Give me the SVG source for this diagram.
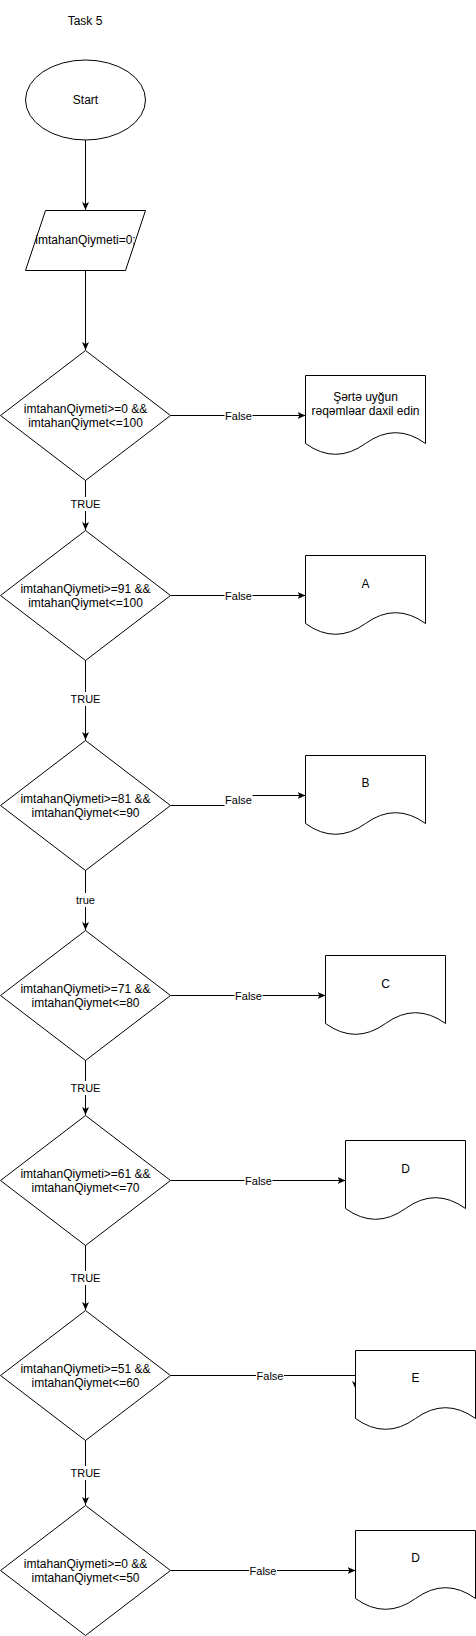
<svg xmlns="http://www.w3.org/2000/svg" width="476" height="1636" viewBox="0 0 476 1636">
<style>
.s{fill:#fff;stroke:#000;stroke-width:1}
.t{font-family:"Liberation Sans",Arial,sans-serif;font-size:12px;fill:#000;text-anchor:middle}
.l{font-family:"Liberation Sans",Arial,sans-serif;font-size:11px;fill:#000;text-anchor:middle}
.c{fill:none;stroke:#000;stroke-width:1}
.bg{fill:#fff}
</style>
<defs>
<marker id="a" viewBox="0 0 8 8" refX="8" refY="4" markerWidth="8" markerHeight="8" markerUnits="userSpaceOnUse" orient="auto">
<path d="M0,0.5 L8,4 L0,7.5 L2,4 Z" fill="#000"/>
</marker>
</defs>
<rect width="476" height="1636" fill="#fff"/>
<g id="title"><text class="t" x="85" y="25">Task 5</text></g>
<g id="connectors">
<path class="c" d="M85.5,140 V210" marker-end="url(#a)"/>
<path class="c" d="M85.5,270 V350" marker-end="url(#a)"/>
<path class="c" d="M85.5,480 V530" marker-end="url(#a)"/>
<path class="c" d="M85.5,660 V740" marker-end="url(#a)"/>
<path class="c" d="M85.5,870 V930" marker-end="url(#a)"/>
<path class="c" d="M85.5,1060 V1115" marker-end="url(#a)"/>
<path class="c" d="M85.5,1245 V1310" marker-end="url(#a)"/>
<path class="c" d="M85.5,1440 V1505" marker-end="url(#a)"/>
<path class="c" d="M170.5,415.5 H305.5" marker-end="url(#a)"/>
<path class="c" d="M170.5,595.5 H305.5" marker-end="url(#a)"/>
<path class="c" d="M170.5,805.5 H238.5 V795.5 H305.5" marker-end="url(#a)"/>
<path class="c" d="M170.5,995.5 H325.5" marker-end="url(#a)"/>
<path class="c" d="M170.5,1180.5 H345.5" marker-end="url(#a)"/>
<path class="c" d="M170.5,1375.5 H355.5 V1389" marker-end="url(#a)"/>
<path class="c" d="M170.5,1570.5 H355.5" marker-end="url(#a)"/>
<g id="labels">
<rect class="bg" x="70" y="497" width="31" height="14"/><text class="l" x="85.5" y="508">TRUE</text>
<rect class="bg" x="70" y="692" width="31" height="14"/><text class="l" x="85.5" y="703">TRUE</text>
<rect class="bg" x="74" y="893" width="23" height="14"/><text class="l" x="85.5" y="904">true</text>
<rect class="bg" x="70" y="1081" width="31" height="14"/><text class="l" x="85.5" y="1092">TRUE</text>
<rect class="bg" x="70" y="1271" width="31" height="14"/><text class="l" x="85.5" y="1282">TRUE</text>
<rect class="bg" x="70" y="1466" width="31" height="14"/><text class="l" x="85.5" y="1477">TRUE</text>
<rect class="bg" x="224.5" y="408.5" width="28" height="14"/><text class="l" x="238.5" y="419.5">False</text>
<rect class="bg" x="224.5" y="588.5" width="28" height="14"/><text class="l" x="238.5" y="599.5">False</text>
<rect class="bg" x="224.5" y="793" width="28" height="14"/><text class="l" x="238.5" y="804">False</text>
<rect class="bg" x="234.5" y="988.5" width="28" height="14"/><text class="l" x="248.5" y="999.5">False</text>
<rect class="bg" x="244.5" y="1173.5" width="28" height="14"/><text class="l" x="258.5" y="1184.5">False</text>
<rect class="bg" x="256" y="1368.5" width="28" height="14"/><text class="l" x="270" y="1379.5">False</text>
<rect class="bg" x="249" y="1563.5" width="28" height="14"/><text class="l" x="263" y="1574.5">False</text>
</g>
</g>
<g id="start"><ellipse class="s" cx="85.5" cy="100" rx="60" ry="40"/><text class="t" x="85.5" y="104">Start</text></g>
<g id="init"><path class="s" d="M45.5,210.5 H145.5 L125.5,270.5 H25.5 Z"/><text class="t" x="85.5" y="244">imtahanQiymeti=0;</text></g>
<g id="cond1"><path class="s" d="M85.5,350.5 L170.5,415.5 L85.5,480.5 L0.5,415.5 Z"/><text class="t" x="85.5" y="413">imtahanQiymeti&gt;=0 &amp;&amp;</text><text class="t" x="85.5" y="427">imtahanQiymet&lt;=100</text></g>
<g id="cond2"><path class="s" d="M85.5,530.5 L170.5,595.5 L85.5,660.5 L0.5,595.5 Z"/><text class="t" x="85.5" y="593">imtahanQiymeti&gt;=91 &amp;&amp;</text><text class="t" x="85.5" y="607">imtahanQiymet&lt;=100</text></g>
<g id="cond3"><path class="s" d="M85.5,740.5 L170.5,805.5 L85.5,870.5 L0.5,805.5 Z"/><text class="t" x="85.5" y="803">imtahanQiymeti&gt;=81 &amp;&amp;</text><text class="t" x="85.5" y="817">imtahanQiymet&lt;=90</text></g>
<g id="cond4"><path class="s" d="M85.5,930.5 L170.5,995.5 L85.5,1060.5 L0.5,995.5 Z"/><text class="t" x="85.5" y="993">imtahanQiymeti&gt;=71 &amp;&amp;</text><text class="t" x="85.5" y="1007">imtahanQiymet&lt;=80</text></g>
<g id="cond5"><path class="s" d="M85.5,1115.5 L170.5,1180.5 L85.5,1245.5 L0.5,1180.5 Z"/><text class="t" x="85.5" y="1178">imtahanQiymeti&gt;=61 &amp;&amp;</text><text class="t" x="85.5" y="1192">imtahanQiymet&lt;=70</text></g>
<g id="cond6"><path class="s" d="M85.5,1310.5 L170.5,1375.5 L85.5,1440.5 L0.5,1375.5 Z"/><text class="t" x="85.5" y="1373">imtahanQiymeti&gt;=51 &amp;&amp;</text><text class="t" x="85.5" y="1387">imtahanQiymet&lt;=60</text></g>
<g id="cond7"><path class="s" d="M85.5,1505.5 L170.5,1570.5 L85.5,1635.5 L0.5,1570.5 Z"/><text class="t" x="85.5" y="1568">imtahanQiymeti&gt;=0 &amp;&amp;</text><text class="t" x="85.5" y="1582">imtahanQiymet&lt;=50</text></g>
<g id="msg"><path class="s" d="M305.5,375.5 H425.5 V443.5 Q395.5,421.9 365.5,443.5 Q335.5,465.1 305.5,443.5 Z"/><text class="t" x="365.5" y="401">Şərtə uyğun</text><text class="t" x="365.5" y="415">rəqəmləar daxil edin</text></g>
<g id="docA"><path class="s" d="M305.5,555.5 H425.5 V623.5 Q395.5,601.9 365.5,623.5 Q335.5,645.1 305.5,623.5 Z"/><text class="t" x="365.5" y="588">A</text></g>
<g id="docB"><path class="s" d="M305.5,755.5 H425.5 V823.5 Q395.5,801.9 365.5,823.5 Q335.5,845.1 305.5,823.5 Z"/><text class="t" x="365.5" y="787">B</text></g>
<g id="docC"><path class="s" d="M325.5,955.5 H445.5 V1023.5 Q415.5,1001.9 385.5,1023.5 Q355.5,1045.1 325.5,1023.5 Z"/><text class="t" x="385.5" y="988">C</text></g>
<g id="docD"><path class="s" d="M345.5,1140.5 H465.5 V1208.5 Q435.5,1186.9 405.5,1208.5 Q375.5,1230.1 345.5,1208.5 Z"/><text class="t" x="405.5" y="1173">D</text></g>
<g id="docE"><path class="s" d="M355.5,1350.5 H475.5 V1418.5 Q445.5,1396.9 415.5,1418.5 Q385.5,1440.1 355.5,1418.5 Z"/><text class="t" x="415.5" y="1382">E</text></g>
<g id="docD2"><path class="s" d="M355.5,1530.5 H475.5 V1598.5 Q445.5,1576.9 415.5,1598.5 Q385.5,1620.1 355.5,1598.5 Z"/><text class="t" x="415.5" y="1562">D</text></g>
</svg>
